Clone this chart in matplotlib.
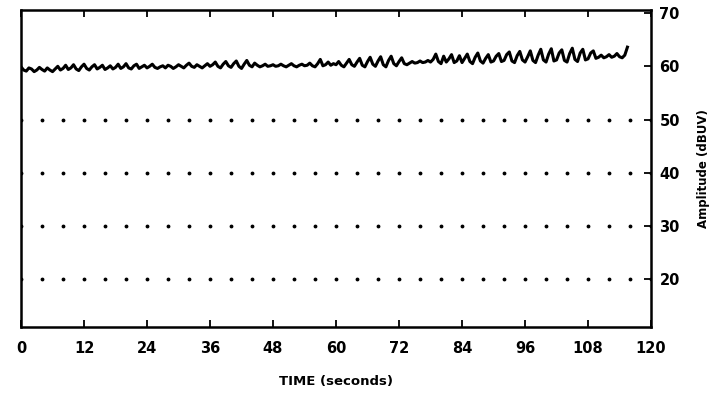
import numpy as np
import matplotlib.pyplot as plt

# amplitude samples, one every 0.5 s
amp = [
    59.9, 59.3, 59.1, 59.7, 59.5, 59.0, 59.3, 59.8, 59.4, 59.1, 59.7, 59.3,
    59.0, 59.5, 60.0, 59.3, 59.6, 60.2, 59.4, 59.7, 60.3, 59.5, 59.2, 59.9,
    60.4, 59.6, 59.3, 59.9, 60.3, 59.5, 59.8, 60.2, 59.4, 59.7, 60.1, 59.5,
    59.8, 60.4, 59.6, 59.9, 60.5, 59.7, 59.5, 60.1, 60.4, 59.6, 59.9, 60.2,
    59.7, 60.0, 60.4, 59.8, 59.6, 59.9, 60.1, 59.7, 60.2, 60.0, 59.6, 59.9,
    60.3, 60.0, 59.7, 60.2, 60.6, 60.0, 59.8, 60.3, 60.0, 59.7, 60.1, 60.5,
    60.0, 60.3, 60.8, 60.0, 59.7, 60.4, 60.9, 60.1, 59.8, 60.5, 61.0, 60.0,
    59.6, 60.4, 61.1, 60.2, 59.9, 60.6, 60.2, 59.9, 60.1, 60.4, 60.0, 60.1,
    60.3, 60.0, 60.1, 60.4, 60.1, 59.9, 60.2, 60.5, 60.1, 59.9, 60.2, 60.4,
    60.1, 60.2, 60.6, 60.1, 59.9, 60.5, 61.3, 60.1, 60.3, 60.8, 60.2, 60.5,
    60.3, 60.9, 60.2, 59.9, 60.6, 61.3, 60.3, 60.0, 60.8, 61.5, 60.2, 59.9,
    60.9, 61.7, 60.4, 60.0, 61.0, 61.8, 60.3, 59.9, 61.1, 61.9, 60.5, 60.1,
    60.9, 61.6, 60.5, 60.3, 60.6, 60.9, 60.6, 60.7, 61.0, 60.7, 60.8, 61.1,
    60.8, 61.3, 62.3, 60.9, 60.5, 61.9, 60.8, 61.4, 62.2, 60.7, 61.0, 62.0,
    60.7, 61.5, 62.3, 60.9, 60.5, 61.7, 62.5, 61.0, 60.6, 61.5, 62.2, 60.8,
    61.0, 61.9, 62.4, 60.9, 61.1, 62.2, 62.7, 61.0, 60.7, 62.0, 62.8, 61.2,
    60.8, 61.8, 62.9, 61.1, 60.7, 62.1, 63.2, 61.2, 60.8, 62.3, 63.3, 61.0,
    61.2, 62.5, 63.1, 61.1, 60.8, 62.4, 63.4, 61.3, 60.9, 62.5, 63.2, 61.2,
    61.4, 62.5, 62.9, 61.5, 61.7, 62.1, 61.6, 61.8, 62.2, 61.7, 61.9, 62.4,
    61.8, 61.6, 62.1, 63.6,
]
t = np.arange(len(amp)) * 0.5

x_ticks = [0, 12, 24, 36, 48, 60, 72, 84, 96, 108, 120]
y_ticks = [20, 30, 40, 50, 60, 70]
grid_levels = [20, 30, 40, 50]

fig = plt.figure(figsize=(7.25, 3.96), dpi=100)
ax = fig.add_axes([0.029, 0.174, 0.869, 0.801])

# dotted reference lines
dots_x = np.arange(0, 121, 4)
for lvl in grid_levels:
    ax.plot(dots_x, [lvl] * len(dots_x), 'k.', ms=3.5, zorder=1)

ax.plot(t, amp, color='black', lw=2.2, zorder=2)

ax.set_xlim(0, 120)
ax.set_ylim(11, 70.6)
ax.set_xticks(x_ticks)
ax.set_yticks(y_ticks)
ax.yaxis.tick_right()
ax.yaxis.set_label_position('right')
ax.tick_params(axis='x', direction='in', top=True, length=5, width=1.3, pad=10)
ax.tick_params(axis='y', direction='in', length=5, width=1.3, pad=6)
for lab in ax.get_xticklabels() + ax.get_yticklabels():
    lab.set_fontweight('bold')
    lab.set_fontsize(10.5)
for sp in ax.spines.values():
    sp.set_linewidth(1.8)

ax.set_xlabel('TIME (seconds)', fontweight='bold', fontsize=9.5, labelpad=14)
ax.set_ylabel('Amplitude (dBUV)', fontweight='bold', fontsize=8.5, labelpad=12)

fig.savefig('out.png', dpi=100)
